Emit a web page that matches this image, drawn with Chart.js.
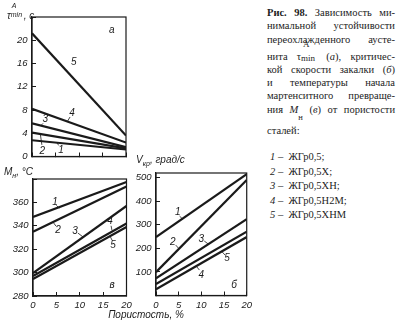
<!DOCTYPE html>
<html>
<head>
<meta charset="utf-8">
<script src="https://cdn.jsdelivr.net/npm/chart.js@4.4.1/dist/chart.umd.min.js"></script>
<style>
    body { margin: 0; background: #fff; }
    #page { position: relative; width: 400px; height: 326px; overflow: hidden; background: #fff; color: #1c1c1c; }
    canvas { position: absolute; }
    .axt { position: absolute; font: italic 10px 'Liberation Sans', sans-serif; white-space: nowrap; line-height: 12px; }
    .axt sub { font-size: 7px; vertical-align: -3px; }
    .cap { position: absolute; left: 267px; width: 128px; height: 13px; line-height: 13px;
           font: 10.5px 'Liberation Serif', 'Times New Roman', serif; text-align: justify; text-align-last: justify; }
    .cap.plain { text-align: left; text-align-last: left; }
    .cap sub { font-size: 8.5px; vertical-align: -7px; }
    .stack { display: inline-block; position: relative; width: 16px; height: 13px; }
    .stack span { position: absolute; left: 0; font-size: 9px; line-height: 9px; }
    .leg { position: absolute; left: 270px; height: 14px; line-height: 14px; font: 10.5px 'Liberation Serif', serif; white-space: nowrap; }
</style>
</head>
<body>
<div id="page">
    <canvas id="tauChart" width="140" height="165" style="left:0;top:0"></canvas>
    <canvas id="msChart" width="140" height="161" style="left:0;top:165px"></canvas>
    <canvas id="vcrChart" width="130" height="161" style="left:130px;top:165px"></canvas>

    <div class="axt" style="left:7px;top:6px"><i>τ</i><span class="stack" style="width:13px"><span style="top:-5px;left:1px;font-size:7px">A</span><span style="top:4px;font-size:7px">min</span></span>, с</div>
    <div class="axt" style="left:4px;top:166px">M<sub>н</sub>, °C</div>
    <div class="axt" style="left:136px;top:154px">V<sub>кр</sub>, град/с</div>
    <div class="axt" style="left:0;width:292px;text-align:center;top:309px">Пористость, %</div>

    <div class="cap" style="top:7px"><b>Рис. 98.</b> Зависимость ми-</div>
    <div class="cap" style="top:20px">нимальной устойчивости</div>
    <div class="cap" style="top:33.5px">переохлажденного аусте-</div>
    <div class="cap" style="top:47px">нита τ<span class="stack"><span style="top:-7px;left:2px">А</span><span style="top:7px">min</span></span> (<i>а</i>), критичес-</div>
    <div class="cap" style="top:63.5px">кой скорости закалки (<i>б</i>)</div>
    <div class="cap" style="top:77px">и температуры начала</div>
    <div class="cap" style="top:90px">мартенситного превраще-</div>
    <div class="cap" style="top:103.5px">ния <i>M</i><sub>н</sub> (<i>в</i>) от пористости</div>
    <div class="cap plain" style="top:125px">сталей:</div>
    <div id="legend"></div>
</div>

<script>
// steels, numbered 1..5 on the curves
const steelNames = ['ЖГр0,5', 'ЖГр0,5Х', 'ЖГр0,5ХН', 'ЖГр0,5Н2М', 'ЖГр0,5ХНМ'];

// porosity, % (each curve is a straight line from 0 to 20 %)
const porosity = [0, 20];
const porosityStep = 5;

// a) minimum stability of undercooled austenite, s
const tauMin = [[2.8, 1.2], [4.1, 1.4], [5.7, 1.6], [8.2, 2.4], [21.2, 3.6]];
const tauAxis = [0, 24, 4];       // min, max, step
const tauHidden = [24];

// в) martensite start temperature, °C
const msTemp = [[347.5, 377.5], [335, 373.5], [299.5, 357], [297, 342], [294.5, 339]];
const msAxis = [280, 380, 20];
const msHidden = [380];

// б) critical quench rate, deg/s
const vCrit = [[248, 515], [99, 490], [73, 324], [26, 248], [49, 271]];
const vAxis = [0, 520, 100];
const vHidden = [0];

const INK = '#1a1a1a';
const LABEL_FAMILY = "'Liberation Sans Narrow', 'Liberation Sans', sans-serif";
const TICK_FONT = { family: LABEL_FAMILY, size: 9.5, style: 'italic' };

// closed box, y tick labels, curve numbers with short leaders
const framePlugin = {
    id: 'frame',
    afterDraw(chart, args, opts) {
        const { ctx, chartArea: a, scales: { x, y } } = chart;
        ctx.save();
        ctx.strokeStyle = INK;
        ctx.lineWidth = 1.2;
        ctx.strokeRect(a.left, a.top, a.right - a.left, a.bottom - a.top);

        ctx.fillStyle = INK;
        ctx.font = `italic 9.5px ${LABEL_FAMILY}`;
        ctx.textAlign = 'right';
        ctx.textBaseline = 'middle';
        y.ticks.forEach(t => {
            if (!opts.hidden.includes(t.value)) ctx.fillText(String(t.value), a.left - 4.5, y.getPixelForValue(t.value));
        });

        ctx.font = "italic 10px 'Liberation Sans', sans-serif";
        ctx.textAlign = 'center';
        ctx.lineWidth = 0.8;
        (opts.notes || []).forEach(n => {
            ctx.fillText(n.text, x.getPixelForValue(n.at[0]), y.getPixelForValue(n.at[1]));
            if (n.lead) {
                ctx.beginPath();
                ctx.moveTo(x.getPixelForValue(n.lead[0]), y.getPixelForValue(n.lead[1]));
                ctx.lineTo(x.getPixelForValue(n.lead[2]), y.getPixelForValue(n.lead[3]));
                ctx.stroke();
            }
        });
        ctx.restore();
    }
};

function lineSets(values) {
    return values.map((v, i) => ({
        label: steelNames[i],
        data: porosity.map((p, k) => ({ x: p, y: v[k] })),
        borderColor: INK,
        borderWidth: 2.2,
        pointRadius: 0,
        fill: false
    }));
}

function makeChart(id, values, cfg) {
    const ctx = document.getElementById(id).getContext('2d');
    const [yMin, yMax, yStep] = cfg.yAxis;
    return new Chart(ctx, {
        type: 'line',
        data: { datasets: lineSets(values) },
        plugins: [framePlugin],
        options: {
            responsive: false,
            animation: false,
            layout: { padding: cfg.padding },
            plugins: {
                legend: { display: false },
                tooltip: { enabled: false },
                frame: { notes: cfg.notes, hidden: cfg.yHidden }
            },
            scales: {
                x: {
                    type: 'linear',
                    min: porosity[0],
                    max: porosity[1],
                    afterFit: s => { s.height = cfg.xHeight; },
                    ticks: {
                        display: cfg.xLabels, stepSize: porosityStep, font: TICK_FONT, color: INK,
                        padding: 8, maxRotation: 0, autoSkip: false
                    },
                    grid: { drawOnChartArea: false, drawTicks: true, tickLength: -4, color: INK },
                    border: { color: INK, width: 1.2 }
                },
                y: {
                    type: 'linear',
                    min: yMin,
                    max: yMax,
                    afterFit: s => { s.width = cfg.yWidth; },
                    ticks: { display: false, stepSize: yStep, includeBounds: false },
                    grid: { drawOnChartArea: false, drawTicks: true, tickLength: -4, color: INK },
                    border: { color: INK, width: 1.2 }
                }
            }
        }
    });
}

makeChart('tauChart', tauMin, {
    padding: { top: 17, right: 14, left: 0, bottom: 0 },
    xHeight: 8.5, yWidth: 32, xLabels: false,
    yAxis: tauAxis, yHidden: tauHidden,
    notes: [
        { text: 'а', at: [17, 21.8] },
        { text: '5', at: [8.9, 16.3] },
        { text: '4', at: [8.5, 7.5], lead: [8.1, 6.8, 7.5, 6.0] },
        { text: '3', at: [2.8, 6.45], lead: [2.35, 5.7, 1.8, 5.25] },
        { text: '2', at: [2.2, 0.95], lead: [2.1, 2.0, 1.8, 3.7] },
        { text: '1', at: [6.2, 1.03], lead: [5.7, 1.9, 5.3, 2.35] }
    ]
});

makeChart('msChart', msTemp, {
    padding: { top: 14, right: 13.5, left: 0, bottom: 0 },
    xHeight: 30, yWidth: 33, xLabels: true,
    yAxis: msAxis, yHidden: msHidden,
    notes: [
        { text: 'в', at: [16.9, 289.4] },
        { text: '1', at: [4.7, 360], lead: [5.0, 357.5, 5.6, 355] },
        { text: '2', at: [5.35, 336.4], lead: [4.9, 339.8, 4.4, 342.5] },
        { text: '3', at: [9.0, 335.5], lead: [9.6, 333.8, 10.7, 330.5] },
        { text: '4', at: [16.5, 343.5], lead: [16.7, 340, 16.9, 336] },
        { text: '5', at: [17.1, 323.6], lead: [16.9, 327.8, 16.5, 331] }
    ]
});

makeChart('vcrChart', vCrit, {
    padding: { top: 8, right: 12, left: 0, bottom: 0 },
    xHeight: 30.5, yWidth: 26, xLabels: true,
    yAxis: vAxis, yHidden: vHidden,
    notes: [
        { text: 'б', at: [17.2, 44.6] },
        { text: '1', at: [4.8, 354], lead: [5.2, 337, 5.9, 324] },
        { text: '2', at: [3.7, 227], lead: [4.35, 214, 5.0, 200] },
        { text: '3', at: [10, 240], lead: [10.65, 231, 11.5, 219] },
        { text: '5', at: [15.65, 159], lead: [15.2, 172, 14.45, 188] },
        { text: '4', at: [10, 87], lead: [9.57, 108, 8.9, 124] }
    ]
});

// steel list under the caption
const legendTops = [151, 165.5, 180, 194.5, 209];
document.getElementById('legend').innerHTML = steelNames.map((name, i) =>
    `<div class="leg" style="top:${legendTops[i]}px"><i>${i + 1}</i> &ndash; &nbsp;${name}${i < steelNames.length - 1 ? ';' : ''}</div>`
).join('');
</script>
</body>
</html>
